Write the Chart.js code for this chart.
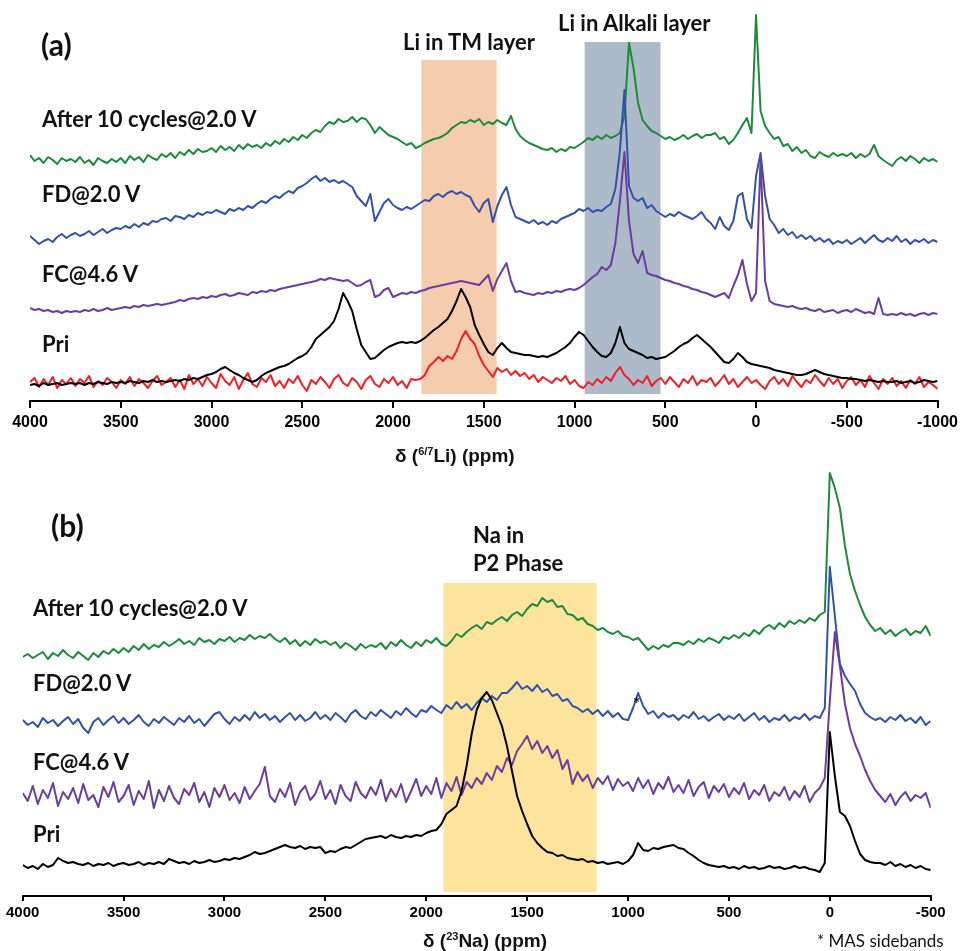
<!DOCTYPE html>
<html>
<head>
<meta charset="utf-8">
<title>Solid-state NMR spectra</title>
<script src="https://cdn.jsdelivr.net/npm/chart.js@4.4.1/dist/chart.umd.min.js"></script>
<style>
    body { margin: 0; background: #fff; }
    #wrap { position: relative; width: 963px; height: 951px; background: #fff; overflow: hidden; }
    canvas { position: absolute; left: 0; }
    .lbl {
        position: absolute;
        transform: translateY(-50%);
        line-height: 1;
        white-space: nowrap;
        font-family: Lato, "Open Sans", sans-serif;
        font-weight: bold;
        color: #111;
    }
    .trace { font-size: 22px; }
    .panel { font-size: 30px; }
    .region { font-size: 22px; }
    .axis { font-family: "Liberation Sans", Arial, sans-serif; font-size: 19px; }
    .axis sup { font-size: 11px; vertical-align: 7px; }
    .note { font-weight: normal; font-size: 17px; }
</style>
</head>
<body>
<div id="wrap">
    <canvas id="chartLi" width="963" height="460" style="top:0;width:963px;height:460px"></canvas>
    <canvas id="chartNa" width="963" height="491" style="top:460px;width:963px;height:491px"></canvas>

    <div class="lbl panel" style="left:41px;top:44px">(a)</div>
    <div class="lbl region" style="left:403px;top:42px">Li in TM layer</div>
    <div class="lbl region" style="left:558px;top:23px">Li in Alkali layer</div>
    <div class="lbl trace" style="left:42px;top:119px">After 10 cycles@2.0 V</div>
    <div class="lbl trace" style="left:42px;top:194px">FD@2.0 V</div>
    <div class="lbl trace" style="left:42px;top:274px">FC@4.6 V</div>
    <div class="lbl trace" style="left:42px;top:344px">Pri</div>
    <div class="lbl axis" style="left:395px;top:455px">δ (<sup>6/7</sup>Li) (ppm)</div>

    <div class="lbl panel" style="left:51px;top:525px">(b)</div>
    <div class="lbl region" style="left:473px;top:535px">Na in</div>
    <div class="lbl region" style="left:473px;top:563px">P2 Phase</div>
    <div class="lbl trace" style="left:33px;top:608px">After 10 cycles@2.0 V</div>
    <div class="lbl trace" style="left:33px;top:683px">FD@2.0 V</div>
    <div class="lbl trace" style="left:33px;top:762px">FC@4.6 V</div>
    <div class="lbl trace" style="left:33px;top:834px">Pri</div>
    <div class="lbl" style="left:633px;top:703px;font-size:17px">*</div>
    <div class="lbl axis" style="left:423px;top:940px">δ (<sup>23</sup>Na) (ppm)</div>
    <div class="lbl note" style="left:817px;top:940px">* MAS sidebands</div>
</div>

<script>
// Chemical shift grids (ppm), 25 ppm spacing from 4000 ppm downfield
const ppmLi = Array.from({ length: 201 }, (_, i) => 4000 - 25 * i);
const ppmNa = Array.from({ length: 181 }, (_, i) => 4000 - 25 * i);

// 6/7Li spectra, stacked intensity (a.u.)
const liAfter10 = [
    246, 240, 243, 238, 244, 241, 237, 243, 240, 242,
    239, 244, 238, 241, 236, 243, 240, 238, 242, 239,
    243, 238, 245, 241, 244, 239, 246, 243, 241, 247,
    244, 248, 243, 249, 246, 251, 247, 252, 249, 250,
    253, 249, 255, 251, 254, 250, 256, 252, 257, 254,
    256, 253, 258, 255, 260, 257, 262, 259, 264, 261,
    266, 263, 268, 271, 269, 275, 279, 277, 282, 279,
    280, 284, 279, 283, 282, 276, 268, 274, 270, 266,
    264, 262, 259, 256, 258, 253, 255, 258, 260, 262,
    263, 265, 268, 273, 276, 279, 278, 281, 279, 282,
    276, 279, 277, 281, 278, 276, 285, 272, 265, 261,
    258, 256, 254, 252, 251, 253, 249, 252, 250, 254,
    253, 256, 259, 263, 261, 265, 262, 266, 263, 265,
    268, 285, 358, 333, 298, 281, 275, 270, 268, 265,
    262, 264, 261, 263, 266, 262, 265, 267, 263, 266,
    266, 268, 262, 264, 257, 261, 268, 276, 283, 268,
    386, 290, 275, 268, 262, 264, 255, 257, 250, 254,
    248, 251, 245, 243, 249, 246, 244, 248, 245, 247,
    245, 248, 243, 247, 244, 247, 256, 245, 241, 238,
    235, 241, 244, 240, 245, 242, 238, 243, 240, 242, 239
];
const liFD = [
    165, 161, 157, 160, 162, 159, 164, 167, 163, 166,
    168, 165, 167, 170, 166, 169, 172, 168, 171, 173,
    172, 175, 173, 177, 174, 178, 176, 180, 179, 182,
    183, 180, 185, 184, 182, 186, 184, 188, 186, 189,
    188, 191, 189, 187, 192, 190, 193, 191, 195, 193,
    197, 200, 198, 202, 205, 203, 207, 210, 208, 213,
    215, 218, 222, 225, 220, 223, 219, 221, 218, 220,
    217, 214, 205, 200, 195, 207, 180, 189, 198, 202,
    196, 193, 191, 194, 192, 195, 198, 201, 200, 205,
    207, 204, 208, 210, 207, 209, 206, 204, 195, 189,
    198, 202, 179, 195, 206, 214, 196, 184, 182, 180,
    178, 181, 177, 179, 176, 180, 178, 182, 184, 186,
    188, 192, 190, 193, 189, 191, 190, 194, 197, 212,
    250, 311, 215, 203, 200, 203, 193, 196, 190, 187,
    184, 187, 185, 189, 186, 184, 182, 185, 189, 182,
    178, 172, 184, 175, 171, 180, 205, 208, 182, 173,
    225, 248, 205, 182, 176, 168, 172, 166, 169, 163,
    166, 162, 165, 160, 163, 159, 162, 157, 160, 158,
    161, 157, 160, 163, 158, 162, 166, 161, 159, 163,
    160, 165, 159, 162, 157, 161, 159, 162, 158, 161, 159
];
const liFC = [
    93, 91, 92, 90, 91, 89, 90, 88, 90, 89,
    90, 89, 91, 90, 92, 90, 91, 93, 91, 92,
    93, 94, 93, 95, 94, 96, 95, 96, 97, 96,
    97, 98, 99, 101, 100, 102, 103, 102, 104, 103,
    105, 104, 106, 107, 105, 106, 108, 107, 106, 109,
    108, 110, 109, 111, 110, 112, 113, 114, 115, 116,
    117, 118, 119, 120, 122, 121, 123, 122, 121, 120,
    121, 118, 115, 116, 119, 121, 104, 106, 111, 113,
    104, 106, 108, 107, 109, 108, 110, 111, 113, 114,
    115, 116, 117, 118, 119, 120, 119, 118, 117, 116,
    121, 126, 110, 122, 130, 138, 120, 109, 110, 108,
    107, 106, 108, 107, 109, 108, 110, 109, 111, 112,
    111, 113, 116, 120, 124, 127, 134, 131, 136, 158,
    200, 249, 180, 147, 138, 150, 128, 126, 125, 123,
    121, 120, 118, 117, 115, 114, 112, 111, 109, 108,
    106, 104, 106, 108, 103, 115, 126, 141, 117, 100,
    108, 244, 120, 100, 97, 96, 95, 94, 95, 93,
    92, 93, 91, 90, 92, 89, 90, 91, 88, 90,
    91, 89, 92, 90, 88, 89, 87, 103, 87, 86,
    87, 86, 88, 86, 87, 85, 87, 88, 86, 88, 87
];
const liPristine = [
    16, 17, 15, 18, 16, 17, 18, 16, 17, 18,
    17, 18, 16, 18, 17, 19, 18, 17, 19, 18,
    19, 18, 20, 19, 18, 20, 19, 21, 19, 20,
    19, 20, 21, 20, 22, 21, 23, 22, 24, 26,
    27, 29, 32, 34, 31, 28, 26, 23, 21, 19,
    21, 25, 28, 30, 32, 34, 35, 37, 40, 43,
    45, 48, 54, 62, 66, 70, 74, 80, 92, 108,
    100, 90, 72, 56, 49, 42, 43, 47, 51, 54,
    56, 58, 59, 58, 59, 58, 60, 63, 67, 71,
    74, 78, 82, 90, 100, 112, 104, 94, 76, 66,
    57, 49, 46, 53, 58, 53, 49, 48, 47, 46,
    46, 45, 44, 45, 44, 46, 48, 51, 54, 58,
    64, 69, 66, 60, 54, 49, 45, 44, 48, 58,
    74, 58, 52, 50, 48, 46, 43, 44, 42, 43,
    44, 47, 50, 54, 57, 59, 63, 66, 62, 58,
    54, 49, 44, 39, 38, 42, 48, 44, 39, 37,
    36, 35, 34, 33, 31, 30, 29, 28, 27, 26,
    26, 27, 29, 31, 29, 27, 26, 25, 24, 23,
    23, 22, 22, 21, 20, 21, 20, 19, 20, 19,
    19, 20, 18, 19, 20, 18, 19, 21, 20, 19, 20
];
const liPristineRed = [
    19, 23, 14, 22, 16, 24, 13, 21, 17, 23,
    15, 22, 18, 25, 14, 20, 16, 23, 19, 13,
    21, 17, 24, 15, 22, 18, 13, 20, 25, 16,
    19, 23, 14, 21, 12, 26, 17, 22, 15, 24,
    18, 13, 27, 20, 16, 24, 12, 21, 28, 17,
    14, 23, 19, 26, 15, 20, 13, 22, 18, 25,
    16, 10, 21, 17, 24, 19, 13, 22, 26, 18,
    15, 23, 19, 12, 21, 25, 17, 14, 22, 18,
    24, 16, 20, 13, 22, 21, 22, 26, 35, 39,
    44, 40, 45, 42, 50, 62, 70, 62, 57, 45,
    36, 30, 24, 33, 29, 32, 26, 30, 25, 28,
    22, 26, 19, 24, 21, 18, 23, 20, 25, 17,
    21, 15, 13, 19, 16, 22, 18, 24, 20, 28,
    34, 26, 22, 16, 21, 18, 25, 15, 20, 23,
    17, 24, 19, 14, 22, 18, 25, 16, 21, 19,
    23, 15, 20, 26, 17, 22, 14, 19, 24, 18,
    21, 16, 12, 20, 24, 17, 22, 15, 25, 19,
    14, 21, 18, 26, 20, 15, 23, 17, 22, 13,
    20, 24, 16, 21, 14, 25, 18, 12, 22, 17,
    23, 15, 20, 13, 21, 17, 24, 14, 19, 16, 12
];

// 23Na spectra, stacked intensity (a.u.)
const naAfter10 = [
    239, 242, 238, 241, 244, 237, 243, 240, 246, 241,
    238, 244, 240, 236, 243, 239, 245, 242, 247, 243,
    248, 244, 250, 246, 252, 247, 251, 249, 254, 250,
    253, 257, 252, 255, 251, 258, 254, 256, 252, 257,
    255, 259, 254, 258, 256, 261, 257, 260, 258, 262,
    257, 254, 258, 252, 256, 250, 255, 251, 257, 253,
    255, 251, 254, 248, 253, 250, 246, 252, 248, 251,
    249, 253, 247, 254, 250, 256, 251, 248, 254, 250,
    256, 253, 258, 252, 250, 255, 262, 259, 264, 268,
    271, 267, 274, 272, 276, 279, 275, 281, 284, 280,
    287, 292, 290, 298, 294, 296, 289, 290, 282, 281,
    276, 278, 272, 270, 266, 268, 264, 262, 265, 260,
    259, 256, 258, 252, 246, 250, 247, 251, 249, 253,
    253, 251, 255, 252, 257, 254, 258, 256, 253, 259,
    257, 261, 258, 263, 260, 266, 262, 268, 271, 267,
    273, 269, 275, 272, 276, 273, 278, 275, 281, 284,
    423, 408, 388, 350, 322, 305, 291, 279, 271, 265,
    268, 262, 266, 260, 264, 267, 261, 265, 263, 270, 260
];
const naFD = [
    176, 171, 174, 169, 178, 173, 176, 170, 175, 179,
    172, 177, 168, 163, 174, 178, 171, 176, 180, 173,
    178, 172, 176, 181, 174, 170, 177, 173, 179, 175,
    171, 178, 174, 180, 173, 177, 170, 176, 182, 184,
    177, 172, 179, 175, 181, 176, 184, 178, 182, 176,
    180, 174, 179, 183, 176, 181, 175, 178, 184, 177,
    181, 176, 183, 179, 174, 182, 186, 180, 177, 184,
    180, 186, 182, 178, 185, 181, 188, 183, 179, 186,
    184, 190, 186, 183, 191, 187, 194, 188, 192, 186,
    193, 198, 194, 200, 196, 203, 203, 208, 214, 207,
    210, 205, 211, 204, 207, 200, 202, 195, 197, 190,
    188, 184, 187, 182, 186, 180, 185, 179, 183, 177,
    176, 188, 203, 190, 182, 185, 178, 183, 179, 181,
    176, 181, 178, 184, 177, 180, 175, 179, 182, 176,
    180, 177, 182, 175, 179, 183, 176, 180, 174, 178,
    176, 181, 175, 179, 177, 182, 176, 180, 178, 188,
    329, 280, 232, 220, 212, 205, 192, 183, 179, 176,
    178, 174, 179, 176, 181, 175, 178, 173, 179, 171, 175
];
const naFC = [
    103, 95, 110, 92, 106, 98, 113, 90, 104, 97,
    108, 93, 112, 96, 101, 89, 109, 99, 114, 94,
    100, 111, 91, 105, 97, 115, 88, 106, 95, 110,
    98, 92, 107, 101, 113, 94, 104, 89, 108, 99,
    111, 96, 103, 93, 109, 97, 105, 112, 129, 100,
    94, 107, 99, 113, 91, 104, 110, 96, 102, 115,
    97, 106, 92, 111, 100, 95, 114, 103, 98, 109,
    101, 116, 95, 107, 99, 112, 94, 105, 117, 100,
    110, 102, 118, 98, 113, 105, 119, 101, 114, 108,
    118, 112, 123, 116, 130, 124, 138, 131, 145, 152,
    160, 147, 155, 143, 150, 138, 146, 127, 136, 112,
    124, 115, 121, 108, 118, 112, 120, 106, 117, 110,
    114, 105, 118, 108, 116, 102, 113, 107, 119, 104,
    111, 103, 116, 100, 109, 114, 98, 110, 104, 112,
    99, 108, 102, 113, 97, 106, 101, 111, 95, 104,
    100, 109, 96, 105, 99, 110, 94, 103, 108, 118,
    195, 264, 230, 192, 168, 152, 140, 126, 115, 106,
    100, 94, 102, 91, 99, 104, 95, 101, 98, 103, 88
];
const naPristine = [
    31, 28, 30, 27, 32, 29, 31, 38, 35, 33,
    34, 32, 31, 33, 30, 32, 31, 33, 30, 32,
    33, 31, 32, 34, 31, 33, 32, 34, 32, 37,
    35, 33, 34, 32, 35, 33, 34, 36, 34, 35,
    37, 36, 38, 37, 39, 41, 44, 42, 43, 45,
    47, 49, 51, 49, 48, 50, 47, 49, 48, 49,
    43, 45, 44, 47, 49, 48, 51, 54, 57, 58,
    59, 60, 58, 61, 59, 58, 60, 59, 61, 60,
    63, 65, 66, 72, 82, 86, 90, 105, 130, 162,
    186, 198, 204, 196, 183, 170, 150, 125, 100, 85,
    72, 60, 53, 48, 44, 43, 40, 41, 38, 37,
    36, 37, 34, 35, 33, 34, 32, 33, 34, 32,
    35, 41, 53, 46, 45, 48, 47, 49, 50, 51,
    48, 47, 43, 40, 36, 33, 31, 30, 29, 30,
    28, 29, 27, 30, 28, 29, 27, 28, 30, 28,
    29, 27, 28, 30, 28, 29, 27, 26, 24, 33,
    164, 120, 84, 80, 70, 55, 42, 36, 34, 33,
    33, 31, 34, 30, 32, 29, 31, 28, 30, 27, 26
];

// Shaded assignment regions: ppm span and intensity span
const bandsLi = [
    { from: 1844, to: 1429, top: 341, bottom: 7, color: 'rgba(245, 198, 166, 0.9)' },
    { from: 944, to: 526, top: 359, bottom: 7, color: 'rgba(166, 180, 198, 0.92)' }
];
const bandsNa = [
    { from: 1916, to: 1156, top: 313, bottom: 4, color: 'rgba(252, 227, 152, 0.95)' }
];

const COLORS = {
    after: '#1c8a3c',
    fd: '#3252aa',
    fc: '#6b3d9e',
    pri: '#000000',
    priRed: '#ee2024'
};

const TICK_FONT = "'Liberation Sans', Arial, sans-serif";

/**
 * Draws the shaded regions behind the spectra
 */
const bandPlugin = {
    id: 'bands',
    beforeDatasetsDraw(chart, args, opts) {
        const { ctx, scales: { x, y } } = chart;
        ctx.save();
        (opts.items || []).forEach(b => {
            const x1 = x.getPixelForValue(b.from);
            const x2 = x.getPixelForValue(b.to);
            const y1 = y.getPixelForValue(b.top);
            const y2 = y.getPixelForValue(b.bottom);
            ctx.fillStyle = b.color;
            ctx.fillRect(Math.min(x1, x2), y1, Math.abs(x2 - x1), y2 - y1);
        });
        ctx.restore();
    }
};

/**
 * Builds one line dataset from a ppm grid and an intensity array
 */
function trace(ppm, values, color) {
    return {
        data: values.map((v, i) => ({ x: ppm[i], y: v })),
        borderColor: color,
        borderWidth: 2,
        borderJoinStyle: 'round',
        pointRadius: 0,
        tension: 0,
        fill: false
    };
}

/**
 * Creates a stacked spectrum panel
 */
function makePanel(canvasId, cfg) {
    const ctx = document.getElementById(canvasId).getContext('2d');
    return new Chart(ctx, {
        type: 'line',
        data: { datasets: cfg.datasets },
        plugins: [bandPlugin],
        options: {
            responsive: false,
            animation: false,
            devicePixelRatio: 1,
            parsing: false,
            layout: { autoPadding: false, padding: cfg.padding },
            plugins: {
                legend: { display: false },
                tooltip: { enabled: false },
                bands: { items: cfg.bands }
            },
            scales: {
                x: {
                    type: 'linear',
                    reverse: true,
                    min: cfg.xMin,
                    max: 4000,
                    afterFit: (scale) => { scale.height = cfg.axisHeight; },
                    border: { display: true, color: '#000', width: 2 },
                    grid: {
                        drawOnChartArea: false,
                        drawTicks: true,
                        color: '#000',
                        lineWidth: 2,
                        tickLength: cfg.tickLength
                    },
                    ticks: {
                        stepSize: 500,
                        color: '#000',
                        padding: cfg.tickPadding,
                        maxRotation: 0,
                        autoSkip: false,
                        font: { family: TICK_FONT, size: cfg.tickSize, weight: 'bold' },
                        callback: (value) => String(value)
                    }
                },
                y: { display: false, min: 0, max: cfg.yMax }
            }
        }
    });
}

makePanel('chartLi', {
    xMin: -1000,
    yMax: 400,
    axisHeight: 59,
    tickLength: 7,
    tickPadding: 5,
    tickSize: 16,
    padding: { left: 30, right: 22.3, top: 1, bottom: 0 },
    bands: bandsLi,
    datasets: [
        trace(ppmLi, liPristine, COLORS.pri),
        trace(ppmLi, liPristineRed, COLORS.priRed),
        trace(ppmLi, liFC, COLORS.fc),
        trace(ppmLi, liFD, COLORS.fd),
        trace(ppmLi, liAfter10, COLORS.after)
    ]
});

makePanel('chartNa', {
    xMin: -500,
    yMax: 430,
    axisHeight: 55,
    tickLength: 5,
    tickPadding: 3,
    tickSize: 15,
    padding: { left: 22.7, right: 32.3, top: 6, bottom: 0 },
    bands: bandsNa,
    datasets: [
        trace(ppmNa, naPristine, COLORS.pri),
        trace(ppmNa, naFC, COLORS.fc),
        trace(ppmNa, naFD, COLORS.fd),
        trace(ppmNa, naAfter10, COLORS.after)
    ]
});
</script>
</body>
</html>
